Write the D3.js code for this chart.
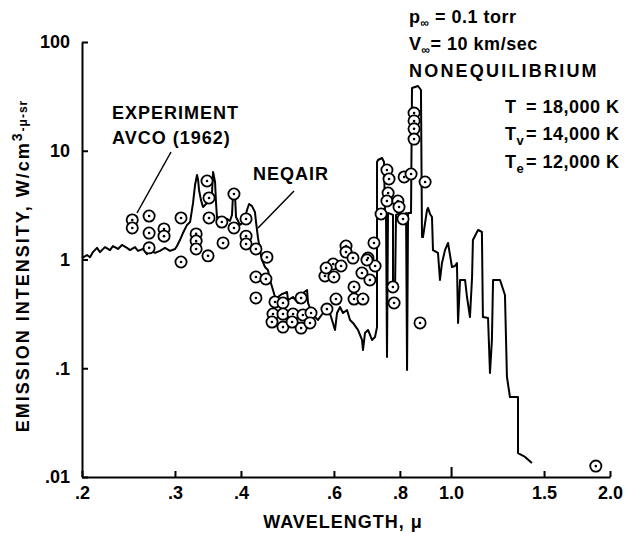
<!DOCTYPE html>
<html><head><meta charset="utf-8">
<script src="https://cdn.jsdelivr.net/npm/d3@7"></script>
<style>
body{margin:0;background:#fff}
text{font-family:"Liberation Sans",Arial,Helvetica,sans-serif;font-weight:bold;fill:#000}
</style>
</head><body>
<svg id="c" width="630" height="536"></svg>
<script>
// ---- data ----
const xTicks=[0.2,0.3,0.4,0.6,0.8,1.0,1.5,2.0];
const xTickLabels=[".2",".3",".4",".6",".8","1.0","1.5","2.0"];
const yTicks=[0.01,0.1,1,10,100];
const yTickLabels=[".01",".1","1","10","100"];

// NEQAIR computed spectrum (wavelength, micron ; intensity W/cm3-micron-sr)
const neqairWavelength=[
.200,.2044,.2071,.2098,.2135,.2163,.2211,.226,.2289,.234,
.2381,.2433,.2466,.252,.2553,.2609,.2655,.269,.275,.281,
.2872,.2936,.3001,.3026,.3066,.3106,.3162,.3204,.3246,.3274,
.3303,.3318,.3332,.336,.339,.345,.3496,.3526,.3542,.3573,
.3588,.3604,.3651,.3698,.3764,.3813,.3847,.3864,.3898,.3915,
.3983,.4054,.4107,.4144,.4198,.4252,.4272,.4309,.4347,.4384,
.4442,.45,.454,.46,.464,.4702,.4784,.4848,.489,.4911,
.502,.5131,.5244,.5337,.536,.5454,.5525,.5598,.5722,.5848,
.595,.6029,.6082,.6162,.6243,.6353,.6436,.6521,.6664,.6782,
.6811,.6871,.6962,.7084,.7178,.724,.7241,.7272,.74,.7465,
.7498,.753,.7563,.7596,.7763,.7764,.7832,.7866,.8006,.8146,
.8218,.8254,.829,.8398,.8434,.8658,.877,.881,.8848,.9004,
.9044,.9124,.9202,.9242,.9446,.9528,.9612,.974,.9868,1.004,
1.017,1.026,1.031,1.04,1.063,1.072,1.086,1.096,1.10,1.125,
1.144,1.149,1.175,1.185,1.195,1.201,1.238,1.265,1.276,1.293,
1.339,1.3391,1.381,1.423];
const neqairIntensity=[
1.03,1.10,1.05,1.17,1.28,1.17,1.30,1.22,1.33,1.25,
1.36,1.28,1.22,1.30,1.20,1.25,1.12,1.22,1.15,1.20,
1.28,1.20,1.25,1.33,1.51,1.75,2.08,2.21,3.31,4.84,
5.98,5.38,4.36,3.52,3.04,3.31,3.52,4.09,6.38,5.16,
3.31,2.41,2.46,2.21,2.36,2.26,2.57,3.92,3.92,2.46,
2.08,2.21,2.85,3.24,3.10,2.73,2.21,1.58,1.22,0.99,
0.853,0.80,0.648,0.524,0.452,0.452,0.482,0.492,0.503,0.424,
0.452,0.398,0.492,0.524,0.398,0.322,0.296,0.278,0.322,0.366,
0.278,0.225,0.322,0.366,0.322,0.343,0.278,0.261,0.225,0.182,
0.147,0.211,0.225,0.182,0.194,0.239,7.88,8.22,8.58,7.88,
2.68,2.68,0.127,2.68,2.57,0.524,0.524,2.57,2.68,2.57,
2.68,0.0964,2.68,2.68,37.8,39.4,36.2,1.61,1.61,2.85,
2.98,2.62,2.46,1.22,1.15,0.648,0.929,1.22,1.42,0.853,
0.871,0.929,0.261,0.648,0.648,0.452,0.296,0.69,1.51,1.87,
1.79,0.296,0.29,0.0904,0.182,0.648,0.648,0.472,0.0831,0.0544,
0.0544,0.0166,0.0153,0.01345];

// AVCO (1962) experiment
const avcoWavelength=[
.249,.249,.268,.268,.268,.286,.286,.308,.308,.329,
.329,.329,.345,.348,.348,.3465,.368,.370,.388,.388,
.409,.409,.409,.427,.448,.427,.446,.427,.464,.4805,
.520,.460,.4805,.502,.524,.543,.4805,.520,.5405,.582,
.6055,.577,.600,.598,.580,.6325,.6325,.652,.696,.7145,
.619,.678,.702,.718,.655,.655,.681,.693,.737,.756,
.763,.760,.756,.793,.797,.811,.815,.840,.893,.851,
.851,.851,.851,.776,.780,.8735,1.88,.458,.500];
const avcoIntensity=[
2.31,1.95,2.51,1.75,1.28,1.91,1.64,2.41,0.949,1.72,
1.48,1.25,5.27,3.68,2.41,1.08,2.21,1.42,4.00,1.95,
2.36,1.64,1.39,1.25,1.05,0.690,0.662,0.443,0.407,0.398,
0.443,0.315,0.315,0.315,0.309,0.322,0.239,0.234,0.261,0.350,
0.433,0.705,0.690,0.909,0.835,1.33,1.17,1.03,1.03,1.42,
0.871,0.751,0.648,0.871,0.559,0.433,0.433,0.99,2.62,6.65,
5.50,4.09,3.45,3.45,3.04,2.36,5.74,6.11,5.16,22.2,
18.8,15.9,12.8,0.559,0.398,0.261,0.0126,0.266,0.266];

// ---- drawing ----
const svg=d3.select("#c");
const x=d3.scaleLog().domain([0.2,2]).range([82,610]);
const y=d3.scaleLog().domain([0.01,100]).range([477,42]);

// axes
const gx=svg.append("g").attr("transform","translate(0,477)")
  .call(d3.axisBottom(x).tickValues(xTicks).tickFormat((d,i)=>xTickLabels[i])
    .tickSizeInner(-6).tickSizeOuter(0).tickPadding(9));
gx.selectAll(".tick line").filter(d=>d===1).attr("y2",-10);
const gy=svg.append("g").attr("transform","translate(82,0)")
  .call(d3.axisLeft(y).tickValues(yTicks).tickFormat((d,i)=>yTickLabels[i])
    .tickSizeInner(-6).tickSizeOuter(0).tickPadding(12));
[gx,gy].forEach(g=>{
  g.select(".domain").attr("stroke","#000").attr("stroke-width",2);
  g.selectAll(".tick line").attr("stroke","#000").attr("stroke-width",2);
  g.selectAll(".tick text").attr("font-size",18).attr("font-family",null).attr("fill","#000");
});

// NEQAIR line
const pts=neqairWavelength.map((w,i)=>[w,neqairIntensity[i]]);
svg.append("path").datum(pts)
  .attr("d",d3.line().x(d=>x(d[0])).y(d=>y(d[1])))
  .attr("fill","none").attr("stroke","#000").attr("stroke-width",2).attr("stroke-linejoin","round");

// experiment circles
const exp=avcoWavelength.map((w,i)=>[w,avcoIntensity[i]]);
const gc=svg.append("g");
gc.selectAll("circle.o").data(exp).join("circle").attr("class","o")
  .attr("cx",d=>x(d[0])).attr("cy",d=>y(d[1])).attr("r",5.6)
  .attr("fill","#fff").attr("stroke","#000").attr("stroke-width",1.8);
gc.selectAll("circle.dot").data(exp).join("circle").attr("class","dot")
  .attr("cx",d=>x(d[0])).attr("cy",d=>y(d[1])).attr("r",1.3).attr("fill","#000");

// leader lines
svg.append("line").attr("x1",171).attr("y1",152).attr("x2",137).attr("y2",213)
  .attr("stroke","#000").attr("stroke-width",1.5);
svg.append("line").attr("x1",294).attr("y1",191).attr("x2",258).attr("y2",228)
  .attr("stroke","#000").attr("stroke-width",1.5);

// labels
function txt(xp,yp,s,opts={}){
  const t=svg.append("text").attr("x",xp).attr("y",yp).attr("font-size",opts.fs||18)
    .attr("letter-spacing",opts.ls==null?1:opts.ls).text(s);
  if(opts.anchor) t.attr("text-anchor",opts.anchor);
  return t;
}
txt(112,119,"EXPERIMENT");
txt(112,144,"AVCO (1962)");
txt(253,180,"NEQAIR");
txt(343,528,"WAVELENGTH, \u03bc",{anchor:"middle"});

// conditions
let t=svg.append("text").attr("x",409).attr("y",23).attr("font-size",18).attr("letter-spacing",0.5);
t.append("tspan").text("p");
t.append("tspan").attr("font-size",12).attr("dy",4).text("\u221e");
t.append("tspan").attr("dy",-4).text(" = 0.1 torr");
t=svg.append("text").attr("x",409).attr("y",50).attr("font-size",18).attr("letter-spacing",0.5);
t.append("tspan").text("V");
t.append("tspan").attr("font-size",12).attr("dy",4).text("\u221e");
t.append("tspan").attr("dy",-4).text("= 10 km/sec");
txt(409,77,"NONEQUILIBRIUM",{ls:2.2});

t=svg.append("text").attr("x",505).attr("y",113).attr("font-size",18).attr("letter-spacing",0.5);
t.append("tspan").text("T");
t.append("tspan").attr("x",526).text("= 18,000 K");
t=svg.append("text").attr("x",505).attr("y",140).attr("font-size",18).attr("letter-spacing",0.5);
t.append("tspan").text("T");
t.append("tspan").attr("font-size",13).attr("dy",5).text("v");
t.append("tspan").attr("x",526).attr("dy",-5).text("= 14,000 K");
t=svg.append("text").attr("x",505).attr("y",168).attr("font-size",18).attr("letter-spacing",0.5);
t.append("tspan").text("T");
t.append("tspan").attr("font-size",13).attr("dy",5).text("e");
t.append("tspan").attr("x",526).attr("dy",-5).text("= 12,000 K");

// y title
t=svg.append("text").attr("transform","translate(29,266) rotate(-90)")
  .attr("text-anchor","middle").attr("font-size",18).attr("letter-spacing",2);
t.append("tspan").text("EMISSION INTENSITY, W/cm");
t.append("tspan").attr("font-size",14).attr("dy",-7).text("3");
t.append("tspan").attr("font-size",12).attr("dy",5).attr("letter-spacing",1).text("-\u03bc-sr");
</script>
</body></html>
